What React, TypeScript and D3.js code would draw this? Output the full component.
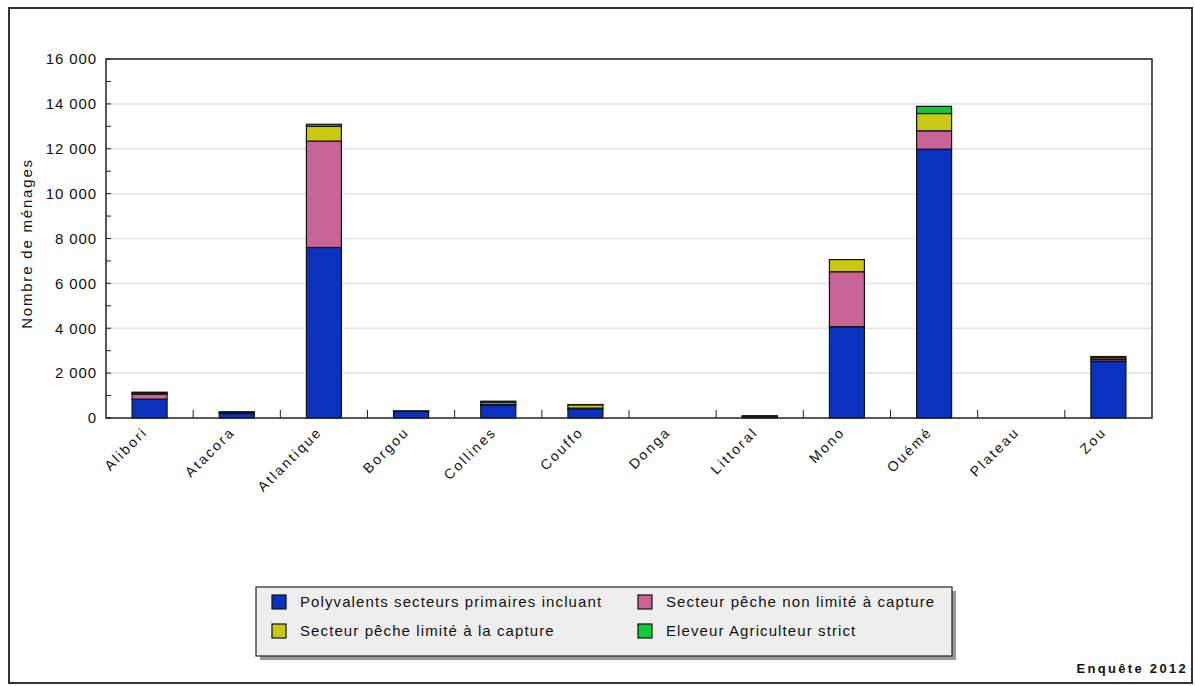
import React from "react";
import * as d3 from "d3";

const categories = ["Alibori", "Atacora", "Atlantique", "Borgou", "Collines", "Couffo", "Donga", "Littoral", "Mono", "Ouémé", "Plateau", "Zou"];
const seriesNames = ["Polyvalents secteurs primaires incluant", "Secteur pêche non limité à capture", "Secteur pêche limité à la capture", "Eleveur Agriculteur strict"];
const polyvalents = [840, 200, 7600, 290, 560, 410, 0, 60, 4070, 11980, 0, 2520];
const pecheNonLimite = [220, 20, 4740, 10, 40, 30, 0, 10, 2450, 820, 0, 80];
const pecheLimite = [60, 30, 660, 5, 90, 150, 0, 10, 540, 770, 0, 80];
const eleveur = [30, 30, 90, 5, 60, 10, 0, 20, 0, 320, 0, 60];
const yTicks = [0, 2000, 4000, 6000, 8000, 10000, 12000, 14000, 16000];
const colors = ["#0b31bf", "#c86497", "#c9c914", "#14c83c"];

const fmt = (v: number) => {
  const s = String(v);
  return s.length > 3 ? s.slice(0, s.length - 3) + " " + s.slice(-3) : s;
};

export default function App() {
  const W = 1195, H = 686;
  const left = 106, right = 1152, top = 59, bottom = 418;
  const x = d3.scaleBand<string>().domain(categories).range([left, right]).paddingInner(0).paddingOuter(0);
  const y = d3.scaleLinear().domain([0, 16000]).range([bottom, top]);
  const rows = categories.map((c, i) => ({ cat: c, s0: polyvalents[i], s1: pecheNonLimite[i], s2: pecheLimite[i], s3: eleveur[i] }));
  const stack = d3.stack<any>().keys(["s0", "s1", "s2", "s3"]);
  const layers = stack(rows);
  const bw = 35;
  const font = "'Liberation Sans', Arial, sans-serif";
  const minor = d3.range(0, 16001, 1000);
  const boundaries = categories.slice(1).map((c) => x(c)!);

  return (
    <svg width={W} height={H} style={{ position: "absolute", left: 0, top: 0, display: "block" }} fontFamily={font}>
      <rect x={0} y={0} width={W} height={H} fill="#fff" />
      <rect x={9} y={8} width={1183} height={675} fill="none" stroke="#333" strokeWidth={2} />
      {yTicks.slice(1).map((t) => (
        <line key={"g" + t} x1={left} x2={right} y1={y(t)} y2={y(t)} stroke="#e2e2e2" strokeWidth={1.5} />
      ))}
      {layers.map((layer, li) =>
        layer.map((d, i) => {
          const h = y(d[0]) - y(d[1]);
          if (h <= 0) return null;
          const cx = x(categories[i])! + x.bandwidth() / 2;
          return (
            <rect key={li + "-" + i} x={cx - bw / 2} y={y(d[1])} width={bw} height={h} fill={colors[li]} stroke="#111" strokeWidth={1.2} />
          );
        })
      )}
      <rect x={left} y={top} width={right - left} height={bottom - top} fill="none" stroke="#222" strokeWidth={1.5} />
      {minor.map((t) => (
        <line key={"m" + t} x1={left} x2={left + 5} y1={y(t)} y2={y(t)} stroke="#222" strokeWidth={1} />
      ))}
      {yTicks.map((t) => (
        <text key={"yl" + t} x={97} y={y(t)} dy="0.35em" textAnchor="end" fontSize={15} letterSpacing={0.9} fill="#111">{fmt(t)}</text>
      ))}
      {boundaries.map((b, i) => (
        <line key={"xt" + i} x1={b} x2={b} y1={bottom} y2={bottom - 8} stroke="#222" strokeWidth={1} />
      ))}
      {categories.map((c) => {
        const cx = x(c)! + x.bandwidth() / 2 - 1;
        return (
          <text key={"xl" + c} transform={`translate(${cx},${433}) rotate(-45)`} textAnchor="end" fontSize={14} letterSpacing={2.2} fill="#111">{c}</text>
        );
      })}
      <text transform={`translate(32,${(top + bottom) / 2 + 5}) rotate(-90)`} textAnchor="middle" fontSize={15} letterSpacing={1.8} fill="#111">Nombre de ménages</text>
      <rect x={260} y={591} width={696} height={69} fill="#999" />
      <rect x={256} y={587} width={696} height={69} fill="#eeeeee" stroke="#222" strokeWidth={1.2} />
      {seriesNames.map((n, i) => {
        const col = i % 2;
        const row = i < 2 ? 0 : 1;
        const sx = col === 0 ? 272 : 638;
        const sy = row === 0 ? 595 : 624;
        return (
          <g key={"lg" + i}>
            <rect x={sx} y={sy} width={14} height={14} fill={colors[i]} stroke="#111" strokeWidth={1.2} />
            <text x={sx + 28} y={sy + 12} fontSize={15} letterSpacing={1.1} fill="#111">{n}</text>
          </g>
        );
      })}
      <text x={1188} y={673} textAnchor="end" fontSize={13} fontWeight="bold" letterSpacing={2.3} fill="#111">Enquête 2012</text>
    </svg>
  );
}
